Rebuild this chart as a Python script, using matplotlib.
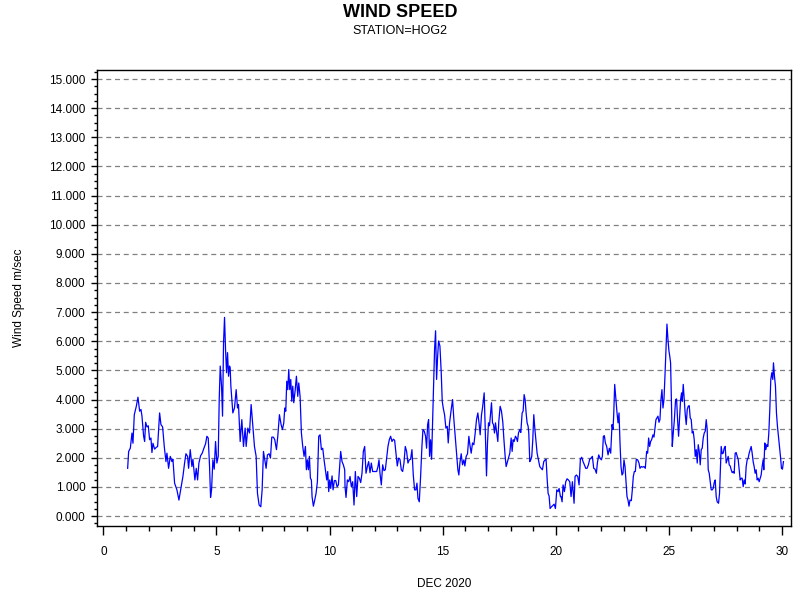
import matplotlib
matplotlib.use("Agg")
import matplotlib.pyplot as plt
from matplotlib.ticker import MultipleLocator, FormatStrFormatter

title = "WIND SPEED"
subtitle = "STATION=HOG2"
xlabel = "DEC 2020"
ylabel = "Wind Speed m/sec"

day = [
    1.075, 1.119, 1.193, 1.266, 1.310, 1.369, 1.458, 1.531, 1.605, 1.664, 1.708, 1.781, 1.826, 1.870,
    1.929, 1.987, 2.046, 2.105, 2.149, 2.194, 2.267, 2.341, 2.400, 2.488, 2.547, 2.620, 2.694, 2.768,
    2.812, 2.885, 2.959, 3.033, 3.077, 3.150, 3.253, 3.342, 3.430, 3.518, 3.592, 3.651, 3.725, 3.769,
    3.842, 3.916, 3.960, 4.048, 4.107, 4.166, 4.225, 4.299, 4.372, 4.446, 4.519, 4.578, 4.637, 4.696,
    4.740, 4.784, 4.843, 4.902, 4.961, 5.020, 5.079, 5.123, 5.167, 5.226, 5.270, 5.314, 5.358, 5.402,
    5.447, 5.491, 5.535, 5.579, 5.607, 5.638, 5.681, 5.725, 5.798, 5.872, 5.931, 5.975, 6.049, 6.122,
    6.196, 6.269, 6.314, 6.387, 6.461, 6.534, 6.608, 6.681, 6.755, 6.814, 6.887, 6.961, 7.020, 7.079,
    7.138, 7.196, 7.255, 7.329, 7.388, 7.447, 7.520, 7.579, 7.653, 7.712, 7.785, 7.859, 7.918, 7.977,
    8.021, 8.065, 8.109, 8.153, 8.197, 8.241, 8.286, 8.330, 8.374, 8.418, 8.477, 8.536, 8.595, 8.639,
    8.698, 8.756, 8.815, 8.874, 8.933, 8.977, 9.021, 9.066, 9.110, 9.154, 9.198, 9.227, 9.286, 9.345,
    9.404, 9.463, 9.522, 9.581, 9.640, 9.699, 9.758, 9.817, 9.876, 9.920, 9.964, 10.008, 10.052, 10.111,
    10.155, 10.214, 10.273, 10.332, 10.391, 10.449, 10.493, 10.552, 10.611, 10.670, 10.685, 10.729,
    10.788, 10.847, 10.906, 10.964, 11.023, 11.082, 11.141, 11.200, 11.259, 11.318, 11.377, 11.435,
    11.494, 11.553, 11.612, 11.671, 11.730, 11.789, 11.847, 11.906, 11.995, 12.083, 12.142, 12.186,
    12.230, 12.289, 12.348, 12.407, 12.466, 12.524, 12.583, 12.642, 12.701, 12.760, 12.819, 12.878,
    12.936, 12.995, 13.054, 13.113, 13.172, 13.231, 13.290, 13.348, 13.407, 13.466, 13.525, 13.584,
    13.643, 13.702, 13.760, 13.819, 13.864, 13.908, 13.967, 14.026, 14.084, 14.129, 14.188, 14.246,
    14.290, 14.335, 14.379, 14.423, 14.467, 14.511, 14.555, 14.599, 14.643, 14.688, 14.732, 14.776,
    14.820, 14.879, 14.938, 14.982, 15.026, 15.085, 15.144, 15.203, 15.247, 15.306, 15.379, 15.438,
    15.497, 15.555, 15.614, 15.673, 15.717, 15.762, 15.820, 15.879, 15.938, 15.982, 16.041, 16.100,
    16.159, 16.203, 16.262, 16.321, 16.380, 16.439, 16.497, 16.556, 16.615, 16.659, 16.718, 16.762,
    16.836, 16.880, 16.939, 16.983, 17.027, 17.071, 17.115, 17.160, 17.204, 17.248, 17.292, 17.336,
    17.395, 17.439, 17.483, 17.542, 17.601, 17.660, 17.704, 17.763, 17.807, 17.866, 17.925, 17.969,
    18.028, 18.072, 18.116, 18.161, 18.220, 18.264, 18.308, 18.352, 18.411, 18.455, 18.514, 18.558,
    18.602, 18.646, 18.690, 18.734, 18.779, 18.808, 18.852, 18.896, 18.940, 18.985, 19.029, 19.073,
    19.132, 19.176, 19.235, 19.294, 19.353, 19.411, 19.470, 19.529, 19.573, 19.618, 19.662, 19.706,
    19.750, 19.809, 19.868, 19.927, 19.986, 20.045, 20.103, 20.148, 20.207, 20.236, 20.280, 20.324,
    20.383, 20.442, 20.501, 20.560, 20.619, 20.677, 20.736, 20.810, 20.854, 20.913, 20.972, 21.031,
    21.089, 21.148, 21.207, 21.266, 21.325, 21.384, 21.443, 21.501, 21.560, 21.619, 21.678, 21.737,
    21.796, 21.840, 21.899, 21.958, 22.017, 22.061, 22.105, 22.149, 22.194, 22.253, 22.311, 22.370,
    22.429, 22.488, 22.532, 22.561, 22.606, 22.650, 22.709, 22.753, 22.797, 22.841, 22.885, 22.929,
    22.973, 23.017, 23.062, 23.106, 23.150, 23.194, 23.238, 23.282, 23.341, 23.385, 23.429, 23.474,
    23.518, 23.562, 23.621, 23.680, 23.724, 23.782, 23.841, 23.900, 23.959, 24.018, 24.062, 24.106,
    24.150, 24.195, 24.239, 24.298, 24.342, 24.386, 24.430, 24.474, 24.519, 24.563, 24.607, 24.651,
    24.695, 24.740, 24.784, 24.828, 24.872, 24.916, 24.960, 25.004, 25.040, 25.077, 25.121, 25.151,
    25.195, 25.239, 25.298, 25.342, 25.386, 25.430, 25.474, 25.519, 25.563, 25.592, 25.636, 25.680,
    25.725, 25.769, 25.813, 25.857, 25.901, 25.945, 25.990, 26.034, 26.078, 26.122, 26.166, 26.210,
    26.255, 26.299, 26.343, 26.387, 26.431, 26.475, 26.519, 26.564, 26.608, 26.652, 26.696, 26.740,
    26.784, 26.829, 26.873, 26.917, 26.961, 27.005, 27.049, 27.093, 27.137, 27.196, 27.241, 27.285,
    27.314, 27.359, 27.403, 27.447, 27.491, 27.535, 27.579, 27.623, 27.668, 27.712, 27.756, 27.800,
    27.844, 27.888, 27.932, 27.977, 28.021, 28.065, 28.109, 28.153, 28.197, 28.241, 28.286, 28.330,
    28.374, 28.418, 28.462, 28.506, 28.550, 28.595, 28.639, 28.683, 28.727, 28.771, 28.815, 28.859,
    28.904, 28.948, 28.992, 29.036, 29.080, 29.124, 29.168, 29.198, 29.242, 29.286, 29.330, 29.375,
    29.419, 29.463, 29.507, 29.551, 29.595, 29.625, 29.669, 29.713, 29.757, 29.801, 29.845, 29.889,
    29.934, 29.978, 30.022, 30.066,
]

speed = [
    1.64, 2.22, 2.33, 2.85, 2.50, 3.48, 3.77, 4.08, 3.60, 3.66, 3.43, 2.74, 2.56, 3.22,
    3.06, 3.10, 2.62, 2.68, 2.18, 2.50, 2.30, 2.36, 2.39, 3.54, 3.14, 3.06, 2.39, 1.87,
    2.16, 1.64, 2.05, 1.87, 1.95, 1.13, 0.90, 0.55, 0.95, 1.36, 1.82, 2.14, 2.05, 1.64,
    2.28, 1.70, 1.95, 1.24, 1.64, 1.24, 1.82, 2.07, 2.16, 2.33, 2.48, 2.74, 2.68, 1.70,
    0.64, 0.90, 1.93, 1.61, 2.56, 1.82, 2.05, 4.00, 5.15, 4.46, 3.43, 5.95, 6.82, 5.72,
    4.92, 5.61, 4.80, 5.15, 5.09, 4.46, 4.00, 3.54, 3.71, 4.34, 3.71, 3.83, 2.56, 3.31,
    2.39, 3.02, 2.39, 3.02, 2.85, 3.83, 3.08, 2.39, 2.05, 0.78, 0.38, 0.32, 0.90, 2.22,
    1.93, 1.64, 2.10, 2.14, 1.99, 2.71, 2.71, 2.62, 2.28, 2.74, 3.48, 3.14, 2.97, 3.20,
    3.71, 3.60, 4.63, 4.34, 5.03, 4.34, 4.69, 3.94, 4.46, 3.89, 4.29, 4.80, 4.11, 4.57,
    4.11, 2.85, 2.39, 2.05, 2.39, 1.59, 1.93, 1.59, 2.05, 1.30, 1.24, 0.67, 0.34, 0.55,
    0.78, 1.18, 2.74, 2.79, 2.28, 2.33, 1.93, 1.59, 1.24, 1.53, 0.84, 1.24, 0.95, 1.38,
    0.90, 1.22, 1.22, 1.01, 1.07, 1.70, 2.22, 1.87, 1.76, 1.59, 1.01, 0.64,
    1.24, 1.18, 1.36, 1.01, 1.18, 0.38, 1.53, 0.67, 1.36, 1.30, 1.15, 1.47,
    2.22, 2.39, 1.47, 1.70, 1.87, 1.49, 1.82, 1.53, 1.53, 1.53, 1.70, 1.93,
    1.47, 1.07, 1.76, 1.56, 1.59, 1.99, 2.39, 2.62, 2.74, 2.56, 2.64, 2.60,
    2.16, 1.72, 1.99, 1.95, 1.59, 1.53, 1.82, 2.39, 2.22, 1.82, 1.93, 1.95,
    2.28, 1.41, 0.90, 0.90, 1.13, 0.61, 0.49, 1.36, 2.39, 2.97, 2.91, 2.74,
    2.33, 3.14, 3.31, 2.05, 2.62, 1.95, 3.20, 4.57, 5.72, 6.36, 4.69, 5.44,
    6.01, 5.84, 4.92, 3.94, 3.71, 3.48, 3.02, 3.08, 2.51, 3.20, 3.66, 4.00,
    3.31, 2.74, 2.16, 1.59, 1.41, 1.82, 2.14, 1.76, 1.93, 1.72, 2.05, 2.14,
    2.74, 2.45, 2.16, 2.51, 2.45, 2.85, 3.31, 3.54, 3.14, 2.79, 3.48, 3.71,
    4.23, 3.08, 1.38, 2.51, 3.20, 3.10, 3.48, 3.89, 3.20, 3.14, 2.85, 3.20,
    2.85, 2.56, 3.25, 3.77, 3.60, 3.22, 2.68, 2.05, 1.70, 1.87, 2.05, 2.16,
    2.68, 2.22, 2.62, 2.56, 2.74, 2.68, 2.56, 2.85, 2.97, 2.87, 3.54, 3.60,
    4.17, 4.00, 3.54, 3.20, 3.08, 2.85, 1.87, 1.93, 2.05, 2.62, 3.48, 3.02,
    2.51, 2.16, 1.93, 1.70, 1.64, 1.59, 1.87, 1.93, 1.95, 1.30, 0.78, 0.69,
    0.26, 0.32, 0.36, 0.41, 0.26, 0.90, 0.84, 0.95, 0.67, 0.67, 0.49, 1.07,
    0.84, 1.18, 1.28, 1.24, 1.18, 0.67, 1.18, 0.44, 1.36, 1.41, 1.36, 1.07,
    1.95, 2.02, 1.87, 1.76, 1.64, 1.64, 1.76, 1.95, 1.99, 2.05, 1.64, 1.61,
    1.47, 1.82, 2.10, 1.99, 1.93, 2.05, 2.74, 2.76, 2.51, 2.39, 2.10, 2.33,
    2.16, 3.14, 2.97, 3.45, 4.52, 4.11, 3.54, 3.20, 3.54, 2.51, 1.70, 1.41,
    1.47, 1.93, 1.70, 1.18, 0.67, 0.55, 0.34, 0.55, 0.53, 0.90, 1.36, 1.53,
    1.53, 1.95, 1.93, 1.82, 1.64, 1.70, 1.68, 1.70, 1.64, 2.22, 2.16, 2.68,
    2.39, 2.56, 2.62, 2.79, 2.71, 3.02, 3.31, 3.37, 3.43, 3.22, 3.31, 4.00,
    4.34, 3.71, 4.00, 4.80, 5.72, 6.59, 6.07, 5.67, 5.49, 5.26, 3.66, 2.39,
    2.85, 3.25, 4.00, 4.02, 3.31, 2.74, 3.37, 4.00, 4.23, 3.94, 4.52, 4.00,
    3.48, 3.14, 3.66, 3.77, 3.79, 3.37, 3.31, 2.85, 2.91, 2.62, 2.05, 2.28,
    1.82, 2.45, 2.22, 1.76, 2.28, 2.33, 2.68, 2.85, 2.91, 3.31, 2.97, 1.59,
    1.47, 1.18, 0.90, 0.90, 0.95, 1.15, 1.24, 0.67, 0.49, 0.44, 0.78, 1.70,
    2.39, 2.14, 2.16, 2.33, 2.39, 1.82, 1.93, 2.05, 1.76, 1.72, 1.59, 1.49,
    1.53, 1.47, 2.16, 2.18, 2.05, 1.95, 1.59, 1.24, 1.30, 1.30, 1.01, 1.24,
    1.10, 1.70, 1.93, 1.99, 2.16, 2.28, 2.39, 2.16, 1.87, 1.70, 1.47, 1.59,
    1.24, 1.30, 1.18, 1.30, 1.41, 1.70, 1.93, 1.59, 2.51, 2.28, 2.45, 2.39,
    2.85, 3.66, 4.69, 4.92, 4.69, 5.26, 4.80, 4.46, 3.54, 3.08, 2.74, 2.39,
    2.05, 1.64, 1.61, 1.87,
]

n = min(len(day), len(speed))
day = day[:n]
speed = speed[:n]

plt.rcParams['font.family'] = ['Liberation Sans', 'DejaVu Sans']

fig = plt.figure(figsize=(8, 6), dpi=100)
ax = fig.add_axes([97 / 800, 74 / 600, 694 / 800, 456 / 600])

ax.plot(day, speed, color='#0000FF', linewidth=0.9)

ax.set_xlim(-0.28, 30.4)
ax.set_ylim(-0.34, 15.31)

ax.xaxis.set_major_locator(MultipleLocator(5))
ax.xaxis.set_minor_locator(MultipleLocator(1))
ax.yaxis.set_major_locator(MultipleLocator(1))
ax.yaxis.set_minor_locator(MultipleLocator(0.25))
ax.yaxis.set_major_formatter(FormatStrFormatter('%.3f'))

ax.tick_params(axis='x', which='major', length=6.5, width=1, labelsize=8.5, pad=8, color='black')
ax.tick_params(axis='x', which='minor', length=3.3, width=1, color='black')
ax.tick_params(axis='y', which='major', length=4.3, width=1, labelsize=8.5, pad=4, color='black')
ax.tick_params(axis='y', which='minor', length=2.2, width=1, color='black')

ax.grid(axis='y', which='major', linestyle=(0, (4, 3)), color='#808080', linewidth=0.9)
ax.set_axisbelow(True)

for s in ax.spines.values():
    s.set_linewidth(1)
    s.set_color('black')

ax.set_xlabel(xlabel, fontsize=8.5, labelpad=14)
ax.set_ylabel(ylabel, fontsize=8.5, labelpad=17)

fig.text(0.5, 1 - 12.5 / 600, title, ha='center', va='center', fontsize=13, fontweight='bold')
fig.text(0.5, 1 - 31 / 600, subtitle, ha='center', va='center', fontsize=9)

fig.savefig('out.png', dpi=100)
